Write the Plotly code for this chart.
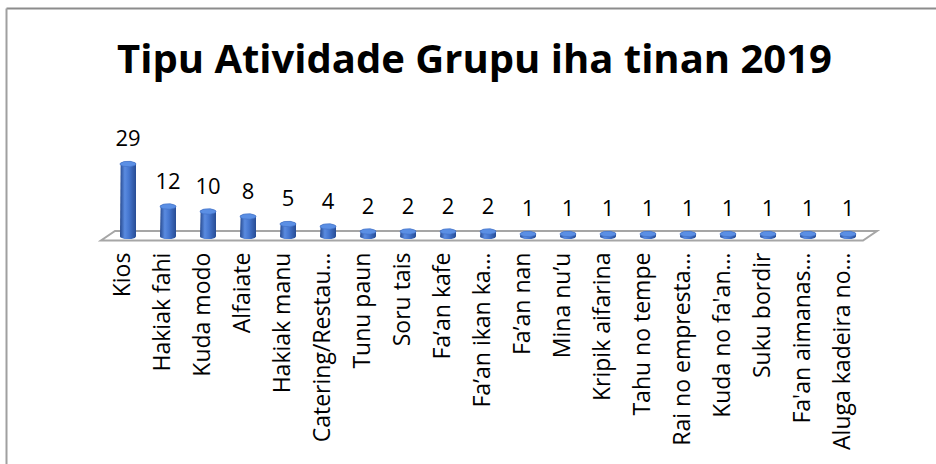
import numpy as np
import plotly.graph_objects as go

# ---- data ----
categories = ["Kios", "Hakiak fahi", "Kuda modo", "Alfaiate", "Hakiak manu",
              "Catering/Restau…", "Tunu paun", "Soru tais", "Fa’an kafe",
              "Fa’an ikan ka…", "Fa’an nan", "Mina nu’u", "Kripik aifarina",
              "Tahu no tempe", "Rai no empresta…", "Kuda no fa'an…",
              "Suku bordir", "Fa'an aimanas…", "Aluga kadeira no…"]
values = [29, 12, 10, 8, 5, 4, 2, 2, 2, 2, 1, 1, 1, 1, 1, 1, 1, 1, 1]
title_text = "Tipu Atividade Grupu iha tinan 2019"

# ---- geometry / style ----
W, H = 936, 464
L, R, T, B = 96, 52, 126, 222
XR = [-0.8, 18.9]
YR = [-2.2, 44.2]
half_w = 0.2       # cylinder half width (x units)
half_h = 1.1       # ellipse half height (y units)
label_gap = 9.4    # label offset above top (y units)
body_scale = [[0, "#26498f"], [0.3, "#5a8be0"], [0.55, "#4677d0"], [1, "#274c94"]]
cap_color = "#5b8fe4"

fig = go.Figure()

th_up = np.linspace(np.pi, 0, 40)
th_dn = np.linspace(0, -np.pi, 40)
th_full = np.linspace(0, 2 * np.pi, 60)

xs_idx = list(range(len(categories)))
for i, v in zip(xs_idx, values):
    bx = np.concatenate([[i - half_w], i + half_w * np.cos(th_up), i + half_w * np.cos(th_dn)])
    by = np.concatenate([[0], v + half_h * np.sin(th_up), 0 + half_h * np.sin(th_dn)])
    fig.add_trace(go.Scatter(
        x=bx, y=by, mode="lines", fill="toself", line=dict(width=0),
        fillgradient=dict(type="horizontal", colorscale=body_scale),
        hoverinfo="skip", showlegend=False))
    fig.add_trace(go.Scatter(
        x=i + half_w * np.cos(th_full), y=v + half_h * np.sin(th_full),
        mode="lines", fill="toself", fillcolor=cap_color,
        line=dict(width=0.6, color="#3f6fc4"),
        hoverinfo="skip", showlegend=False))

fig.add_trace(go.Scatter(
    x=xs_idx, y=[v + label_gap for v in values], mode="text",
    text=[str(v) for v in values], textposition="middle center",
    textfont=dict(family="Open Sans", size=22, color="#000000"),
    hoverinfo="skip", showlegend=False))

# floor platform
n = len(categories)
fx = [-0.675, n - 1 + 0.375, n - 1 + 0.725, -0.325]
fy = [-1.6, -1.6, 2.2, 2.2]
path = "M %f,%f L %f,%f L %f,%f L %f,%f Z" % (fx[0], fy[0], fx[1], fy[1], fx[2], fy[2], fx[3], fy[3])
fig.add_shape(type="path", path=path, xref="x", yref="y", layer="below",
              fillcolor="white", line=dict(color="#a6a6a6", width=2))

# chart border (left/top visible)
pw = W - L - R
ph = H - T - B
bx0 = (6.5 - L) / pw
by1 = (H - B - 8.5) / ph
fig.add_shape(type="line", xref="paper", yref="paper",
              x0=bx0, x1=(W + 10 - L) / pw, y0=by1, y1=by1,
              line=dict(color="#8c8c8c", width=2))
fig.add_shape(type="line", xref="paper", yref="paper",
              x0=bx0, x1=bx0, y0=by1, y1=(H - B - (H + 10)) / ph,
              line=dict(color="#a0a0a0", width=2))

fig.update_layout(
    template="none",
    width=W, height=H,
    margin=dict(l=L, r=R, t=T, b=B, pad=0),
    paper_bgcolor="white", plot_bgcolor="white",
    title=dict(text="<b>" + title_text + "</b>", x=474.5 / W, xanchor="center",
               y=1 - 59 / H, yanchor="middle", yref="container",
               font=dict(family="Open Sans", size=40, color="#000000")),
    xaxis=dict(range=XR, tickmode="array", tickvals=xs_idx, ticktext=categories,
               tickangle=-90, showgrid=False, zeroline=False, showline=False,
               ticks="", automargin=False, ticklabelstandoff=5, ticklabelshift=-5,
               tickfont=dict(family="Open Sans", size=23, color="#000000")),
    yaxis=dict(range=YR, visible=False, showgrid=False, zeroline=False, automargin=False),
)

fig.write_html("out.html", config={"displayModeBar": False},
               post_script="document.body.style.margin='0';document.body.style.overflow='hidden';")
